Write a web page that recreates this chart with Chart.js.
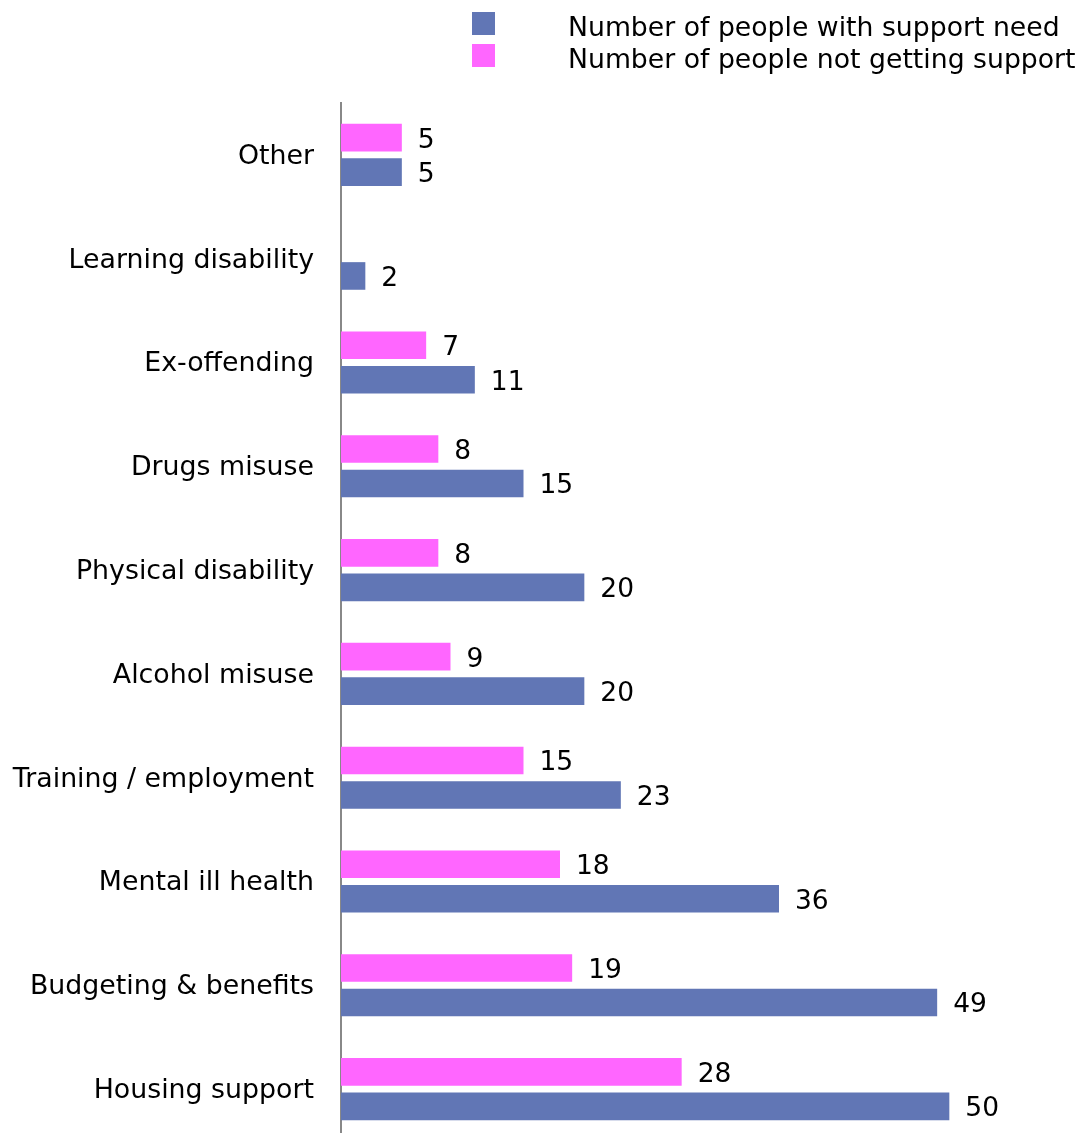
<!DOCTYPE html>
<html>
<head>
<meta charset="utf-8">
<script src="https://cdn.jsdelivr.net/npm/chart.js@4/dist/chart.umd.min.js"></script>
<style>
  html, body { margin: 0; padding: 0; background: #fff; overflow: hidden; }
  #wrap { position: relative; width: 1082px; height: 1133px; overflow: hidden; }
  #chart { position: absolute; left: 0; top: 0; }
  .legend { position: absolute; left: 472px; font-family: "DejaVu Sans", Verdana, sans-serif; font-size: 26.7px; color: #000; }
  .legend .box { position: absolute; left: 0; top: 0; width: 23px; height: 23px; }
  .legend .txt { position: absolute; left: 96px; top: 1px; white-space: nowrap; line-height: 28px; }
</style>
</head>
<body>
<div id="wrap">
  <canvas id="chart" width="1082" height="1141"></canvas>
  <div class="legend" id="legend-1" style="top:12px"></div>
  <div class="legend" id="legend-2" style="top:44px"></div>
</div>
<script>
const categories = ["Other", "Learning disability", "Ex-offending", "Drugs misuse", "Physical disability",
  "Alcohol misuse", "Training / employment", "Mental ill health", "Budgeting & benefits", "Housing support"];
const notGettingSupport = [5, null, 7, 8, 8, 9, 15, 18, 19, 28];
const withSupportNeed = [5, 2, 11, 15, 20, 20, 23, 36, 49, 50];

const seriesNames = ["Number of people not getting support", "Number of people with support need"];
const pink = "#FF66FF";
const blue = "#6176B5";
const fontFamily = '"DejaVu Sans", Verdana, sans-serif';

// html legend, blue listed first like the original
function makeLegend(id, color, label) {
  const el = document.getElementById(id);
  const box = document.createElement("div");
  box.className = "box";
  box.style.background = color;
  const txt = document.createElement("div");
  txt.className = "txt";
  txt.innerText = label;
  el.appendChild(box);
  el.appendChild(txt);
}
makeLegend("legend-1", blue, seriesNames[1]);
makeLegend("legend-2", pink, seriesNames[0]);

const valueLabels = {
  id: "valueLabels",
  afterDatasetsDraw(chart) {
    const ctx = chart.ctx;
    ctx.save();
    ctx.font = "26.5px " + fontFamily;
    ctx.fillStyle = "#000";
    ctx.textAlign = "left";
    ctx.textBaseline = "middle";
    chart.data.datasets.forEach((ds, i) => {
      chart.getDatasetMeta(i).data.forEach((bar, j) => {
        if (ds.data[j] == null) return;
        ctx.fillText(ds.data[j], bar.x + 16, bar.y + 3);
      });
    });
    ctx.restore();
  }
};

new Chart(document.getElementById("chart"), {
  type: "bar",
  data: {
    labels: categories,
    datasets: [
      { label: seriesNames[0], data: notGettingSupport, backgroundColor: pink },
      { label: seriesNames[1], data: withSupportNeed, backgroundColor: blue }
    ]
  },
  options: {
    indexAxis: "y",
    responsive: false,
    animation: false,
    categoryPercentage: 0.665,
    barPercentage: 0.8,
    layout: { padding: { top: 103, right: 11, bottom: 0, left: 0 } },
    plugins: { legend: { display: false }, tooltip: { enabled: false } },
    scales: {
      x: { display: false, min: 0, max: 60 },
      y: {
        afterFit: (scale) => {
          scale.width = 341;
          scale.paddingTop = 0;
          scale.paddingBottom = 0;
        },
        grid: { display: false, drawTicks: false },
        border: { display: true, color: "#888", width: 2 },
        ticks: {
          color: "#000",
          padding: 27,
          labelOffset: 2,
          font: { family: fontFamily, size: 26.8 }
        }
      }
    }
  },
  plugins: [valueLabels]
});
</script>
</body>
</html>
